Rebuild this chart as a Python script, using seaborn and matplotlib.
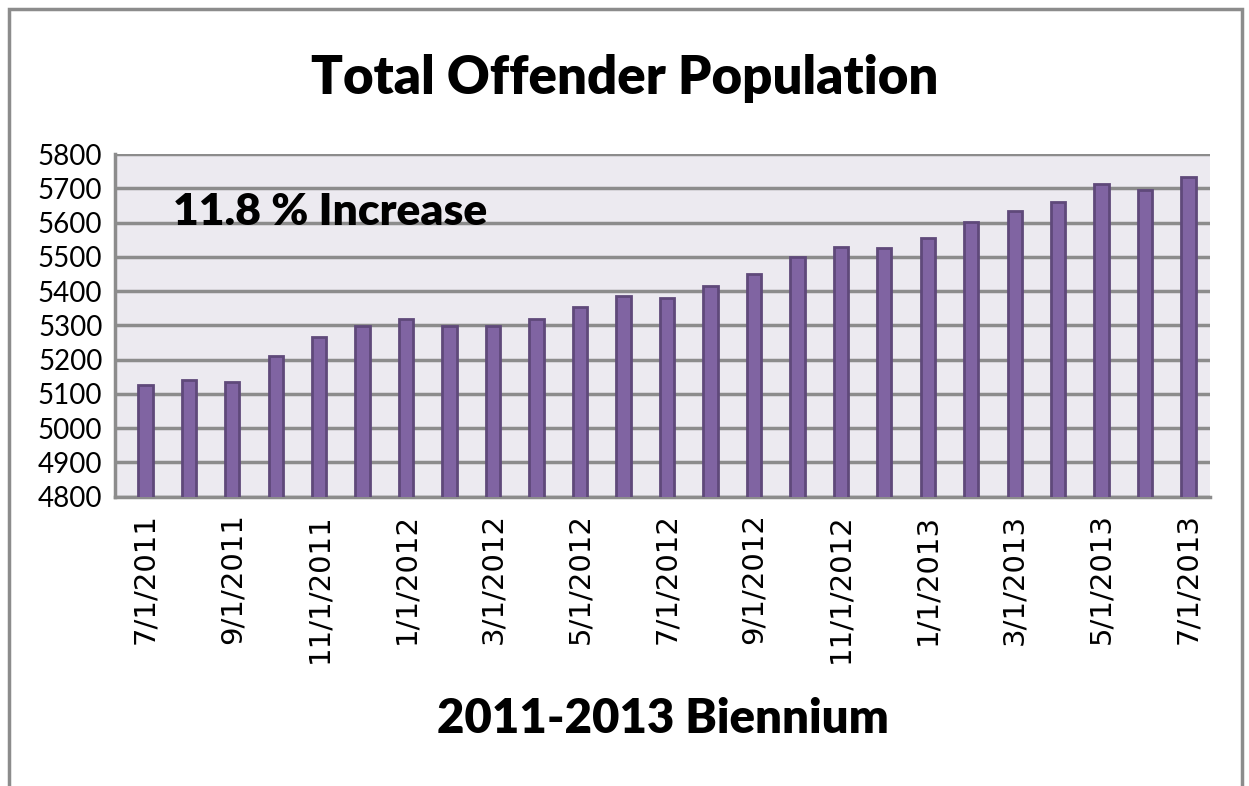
import pandas as pd
import matplotlib.pyplot as plt
import seaborn as sns
from matplotlib.patches import Rectangle

# monthly totals
months = ['7/1/2011', '8/1/2011', '9/1/2011', '10/1/2011', '11/1/2011', '12/1/2011',
          '1/1/2012', '2/1/2012', '3/1/2012', '4/1/2012', '5/1/2012', '6/1/2012',
          '7/1/2012', '8/1/2012', '9/1/2012', '10/1/2012', '11/1/2012', '12/1/2012',
          '1/1/2013', '2/1/2013', '3/1/2013', '4/1/2013', '5/1/2013', '6/1/2013',
          '7/1/2013']
population = [5125, 5140, 5135, 5210, 5266, 5297, 5320, 5297, 5297, 5320, 5355, 5385,
              5380, 5414, 5450, 5500, 5530, 5526, 5555, 5601, 5634, 5660, 5712, 5696,
              5732]
y_ticks = list(range(4800, 5801, 100))

df = pd.DataFrame({'month': months, 'population': population})

sns.set_style('whitegrid', {'axes.facecolor': '#ECEAF0', 'grid.color': '#8C8C8C',
                            'axes.edgecolor': '#8C8C8C', 'text.color': 'black',
                            'xtick.color': 'black', 'ytick.color': 'black'})
plt.rcParams['font.family'] = ['Lato', 'DejaVu Sans']

fig = plt.figure(figsize=(12.49, 7.86), dpi=100)
ax = fig.add_axes([0.092, 0.368, 0.877, 0.436])

sns.barplot(data=df, x='month', y='population', color='#8064A2', saturation=1,
            width=0.33, edgecolor='#5F497A', linewidth=2, ax=ax, zorder=3)

ax.set_ylim(4800, 5800)
ax.set_yticks(y_ticks)
ax.grid(axis='y', linewidth=2.5, zorder=0)
ax.grid(axis='x', visible=False)
ax.set_axisbelow(True)
for side in ['top', 'right']:
    ax.spines[side].set_visible(False)
ax.spines['left'].set_linewidth(2.5)
ax.spines['bottom'].set_linewidth(2.5)
ax.tick_params(axis='y', length=6, width=2, color='#8C8C8C', labelsize=20, pad=3)
ax.tick_params(axis='x', length=0, pad=12)
ax.set_xticks(range(0, len(months), 2))
ax.set_xticklabels(months[::2], rotation=90, fontsize=21, family='DejaVu Sans')
ax.set_xlim(-0.7, len(months) - 0.5)

ax.set_ylabel('')
ax.set_xlabel('2011-2013 Biennium', fontsize=34, fontweight='heavy', labelpad=24,
              color='black')
fig.text(0.5, 0.9, 'Total Offender Population', ha='center', va='center',
         fontsize=38, fontweight='heavy', color='black')
ax.text(0.053, 0.83, '11.8 % Increase', transform=ax.transAxes, ha='left', va='center',
        fontsize=32, fontweight='heavy', color='black')

fig.add_artist(Rectangle((0.007, -0.02), 0.987, 1.009, transform=fig.transFigure,
                         fill=False, edgecolor='#8C8C8C', linewidth=2.5))

fig.savefig('out.png', dpi=100)
